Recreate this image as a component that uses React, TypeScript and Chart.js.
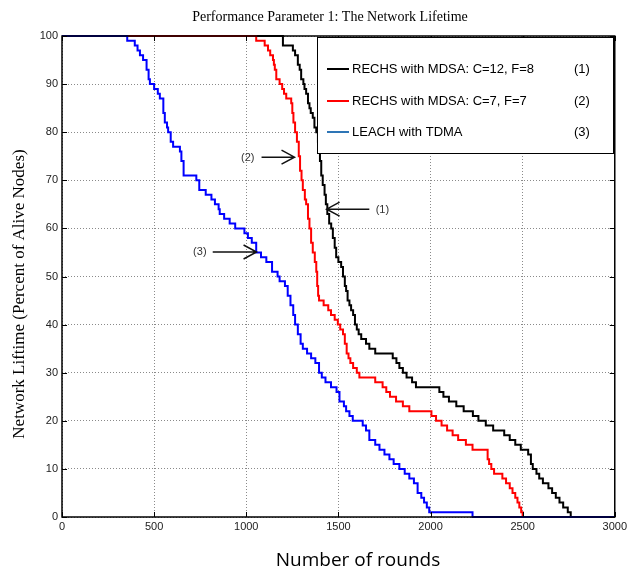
import { useEffect, useRef } from "react";
import { Chart, registerables } from "chart.js";
Chart.register(...registerables);

const chartTitle = "Performance Parameter 1: The Network Lifetime";
const xTitle = "Number of rounds";
const yTitle = "Network Liftime (Percent of Alive Nodes)";

const seriesNames = ["RECHS with MDSA: C=12, F=8", "RECHS with MDSA: C=7, F=7", "LEACH with TDMA"];
const seriesTags = ["(1)", "(2)", "(3)"];
const seriesColors = ["#000000", "#ff0000", "#0000ff"];
const legendColors = ["#000000", "#ff0000", "#2e75b6"];

const blackRounds = [0,1199,1253,1265,1280,1290,1298,1310,1316,1325,1335,1343,1350,1361,1370,1380,1389,1395,1400,1407,1415,1425,1432,1440,1450,1461,1470,1480,1488,1500,1515,1525,1535,1542,1550,1560,1569,1580,1590,1600,1610,1624,1650,1668,1700,1795,1815,1831,1850,1870,1900,1921,2048,2070,2100,2140,2180,2230,2260,2300,2340,2400,2430,2460,2490,2530,2545,2555,2575,2590,2610,2640,2660,2680,2700,2720,2745,2761,3000];
const blackAlive = [100,98,97,96,94,93,91,90,89,88,86,85,84,83,81,80,78,76,74,71,69,67,65,63,61,60,58,56,54,53,52,50,48,47,45,44,43,42,40,39,38,37,36,35,34,33,32,31,30,29,28,27,26,25,24,23,22,21,20,19,18,17,16,15,14,13,11,10,9,8,7,6,5,4,3,2,1,0,0];

const redRounds = [0,1054,1100,1118,1130,1145,1150,1155,1163,1181,1195,1205,1217,1244,1250,1256,1265,1275,1285,1292,1300,1307,1318,1325,1335,1343,1352,1361,1372,1380,1385,1390,1395,1420,1445,1460,1480,1497,1510,1525,1535,1545,1555,1565,1580,1600,1614,1700,1740,1760,1780,1813,1850,1885,2005,2030,2060,2090,2120,2150,2192,2228,2310,2318,2330,2345,2390,2410,2430,2445,2460,2472,2482,2492,2500,3000];
const redAlive = [100,99,98,97,96,95,94,93,91,90,89,88,87,86,84,82,80,78,75,72,70,68,66,65,62,60,57,55,53,51,48,46,45,44,43,42,41,40,39,38,36,34,33,32,31,30,29,28,27,26,25,24,23,22,21,20,19,18,17,16,15,14,12,11,10,9,8,7,6,5,4,3,2,1,0,0];

const blueRounds = [0,354,395,410,423,440,459,470,477,500,520,531,550,558,570,576,590,603,640,648,660,729,745,780,811,830,850,856,880,910,940,990,1009,1030,1054,1080,1109,1140,1170,1181,1210,1225,1240,1255,1265,1280,1295,1307,1330,1352,1375,1395,1410,1430,1460,1490,1506,1530,1542,1560,1578,1632,1650,1668,1700,1723,1750,1777,1800,1831,1860,1885,1910,1930,1950,1965,1980,1993,2228,3000];
const blueAlive = [100,99,98,97,96,95,93,91,90,89,88,87,84,82,81,80,78,77,76,74,71,70,68,67,66,65,64,63,62,61,60,59,58,57,55,54,53,51,50,49,48,46,44,42,40,38,36,35,34,33,32,30,29,28,27,26,24,23,22,21,20,19,18,16,15,14,13,12,11,10,9,8,7,5,4,3,2,1,0,0];

const xMin = 0, xMax = 3000, xStep = 500;
const yMin = 0, yMax = 100, yStep = 10;

// annotation arrows in data units: label position, arrow start, arrow end
const annotations = [
  { label: "(2)", lx: 1008, ly: 74.6, x0: 1083, x1: 1262, y: 74.8 },
  { label: "(3)", lx: 748, ly: 55.1, x0: 818, x1: 1056, y: 55.1 },
  { label: "(1)", lx: 1739, ly: 63.8, x0: 1668, x1: 1436, y: 64.0 },
];

const toPts = (xs: number[], ys: number[]) => xs.map((x, i) => ({ x, y: ys[i] }));

const decorPlugin = {
  id: "decor",
  afterDatasetsDraw(chart: any) {
    const { ctx, chartArea: a, scales } = chart;
    const xs = scales.x, ys = scales.y;
    ctx.save();
    // plot border
    ctx.strokeStyle = "#000";
    ctx.lineWidth = 1.5;
    ctx.strokeRect(a.left, a.top, a.right - a.left, a.bottom - a.top);
    // inward ticks
    ctx.lineWidth = 1;
    for (let v = xMin; v <= xMax; v += xStep) {
      const px = Math.round(xs.getPixelForValue(v)) + 0.5;
      ctx.beginPath();
      ctx.moveTo(px, a.bottom); ctx.lineTo(px, a.bottom - 5);
      ctx.moveTo(px, a.top); ctx.lineTo(px, a.top + 5);
      ctx.stroke();
    }
    for (let v = yMin; v <= yMax; v += yStep) {
      const py = Math.round(ys.getPixelForValue(v)) + 0.5;
      ctx.beginPath();
      ctx.moveTo(a.left, py); ctx.lineTo(a.left + 5, py);
      ctx.moveTo(a.right, py); ctx.lineTo(a.right - 5, py);
      ctx.stroke();
    }
    // annotations
    ctx.font = "11px 'Liberation Sans', sans-serif";
    ctx.textAlign = "center";
    ctx.textBaseline = "middle";
    for (const an of annotations) {
      ctx.fillStyle = "#333";
      ctx.fillText(an.label, xs.getPixelForValue(an.lx), ys.getPixelForValue(an.ly));
      const p0 = xs.getPixelForValue(an.x0), p1 = xs.getPixelForValue(an.x1);
      const py = ys.getPixelForValue(an.y);
      const dir = p1 > p0 ? 1 : -1;
      ctx.strokeStyle = "#111";
      ctx.lineWidth = 1.5;
      ctx.beginPath();
      ctx.moveTo(p0, py); ctx.lineTo(p1, py);
      ctx.moveTo(p1 - dir * 13, py - 7); ctx.lineTo(p1, py); ctx.lineTo(p1 - dir * 13, py + 7);
      ctx.stroke();
    }
    // legend box
    const lx = a.left + 255, ly = a.top + 1, lw = 296, lh = 116;
    ctx.fillStyle = "#fff";
    ctx.fillRect(lx, ly, lw, lh);
    ctx.strokeStyle = "#000";
    ctx.lineWidth = 1;
    ctx.strokeRect(lx + 0.5, ly + 0.5, lw, lh);
    const rows = [32, 64, 95];
    ctx.font = "13px 'Liberation Sans', sans-serif";
    ctx.textAlign = "left";
    seriesNames.forEach((name, i) => {
      const ry = ly + rows[i];
      ctx.strokeStyle = legendColors[i];
      ctx.lineWidth = 2;
      ctx.beginPath();
      ctx.moveTo(lx + 10, ry); ctx.lineTo(lx + 32, ry);
      ctx.stroke();
      ctx.fillStyle = "#000";
      ctx.fillText(name, lx + 35, ry);
      ctx.fillText(seriesTags[i], lx + 257, ry);
    });
    ctx.restore();
  },
  afterDraw(chart: any) {
    const { ctx } = chart;
    ctx.save();
    ctx.fillStyle = "#000";
    ctx.textAlign = "center";
    ctx.textBaseline = "middle";
    ctx.font = "14px 'Liberation Serif', serif";
    ctx.fillText(chartTitle, 330, 17);
    ctx.font = "19px 'Open Sans', sans-serif";
    ctx.fillText(xTitle, 358, 561);
    ctx.translate(20, 294);
    ctx.rotate(-Math.PI / 2);
    ctx.font = "17px 'Liberation Serif', serif";
    ctx.fillText(yTitle, 0, 0);
    ctx.restore();
  },
};

export default function App() {
  const ref = useRef<HTMLCanvasElement>(null);
  useEffect(() => {
    if (!ref.current) return;
    const mk = (label: string, xs: number[], ys: number[], color: string, order: number) => ({
      label,
      data: toPts(xs, ys),
      borderColor: color,
      backgroundColor: color,
      borderWidth: 2,
      pointRadius: 0,
      stepped: "before" as const,
      fill: false,
      clip: false as any,
      order,
    });
    const tickFont = { size: 11, family: "'Liberation Sans', sans-serif" };
    const chart = new Chart(ref.current, {
      type: "line",
      data: {
        datasets: [
          mk(seriesNames[0], blackRounds, blackAlive, seriesColors[0], 3),
          mk(seriesNames[1], redRounds, redAlive, seriesColors[1], 2),
          mk(seriesNames[2], blueRounds, blueAlive, seriesColors[2], 1),
        ],
      },
      options: {
        responsive: false,
        animation: false,
        events: [],
        layout: { padding: { left: 0, right: 14, top: 36, bottom: 0 } },
        plugins: { legend: { display: false }, title: { display: false }, tooltip: { enabled: false } },
        scales: {
          x: {
            type: "linear",
            min: xMin,
            max: xMax,
            ticks: { stepSize: xStep, padding: 3, color: "#222", font: tickFont, maxRotation: 0, callback: (v: any) => String(v) },
            grid: { color: "#8a8a8a", drawTicks: false, lineWidth: 1 },
            border: { display: false, dash: [1, 2] },
            afterFit: (s: any) => { s.height = 55; },
          },
          y: {
            type: "linear",
            min: yMin,
            max: yMax,
            ticks: { stepSize: yStep, padding: 4, color: "#222", font: tickFont, callback: (v: any) => String(v) },
            grid: { color: "#8a8a8a", drawTicks: false, lineWidth: 1 },
            border: { display: false, dash: [1, 2] },
            afterFit: (s: any) => { s.width = 62; },
          },
        },
      },
      plugins: [decorPlugin],
    });
    return () => chart.destroy();
  }, []);
  return (
    <div style={{ position: "absolute", left: 0, top: 0, width: 630, height: 572, background: "#fff" }}>
      <canvas ref={ref} width={630} height={572} />
    </div>
  );
}
